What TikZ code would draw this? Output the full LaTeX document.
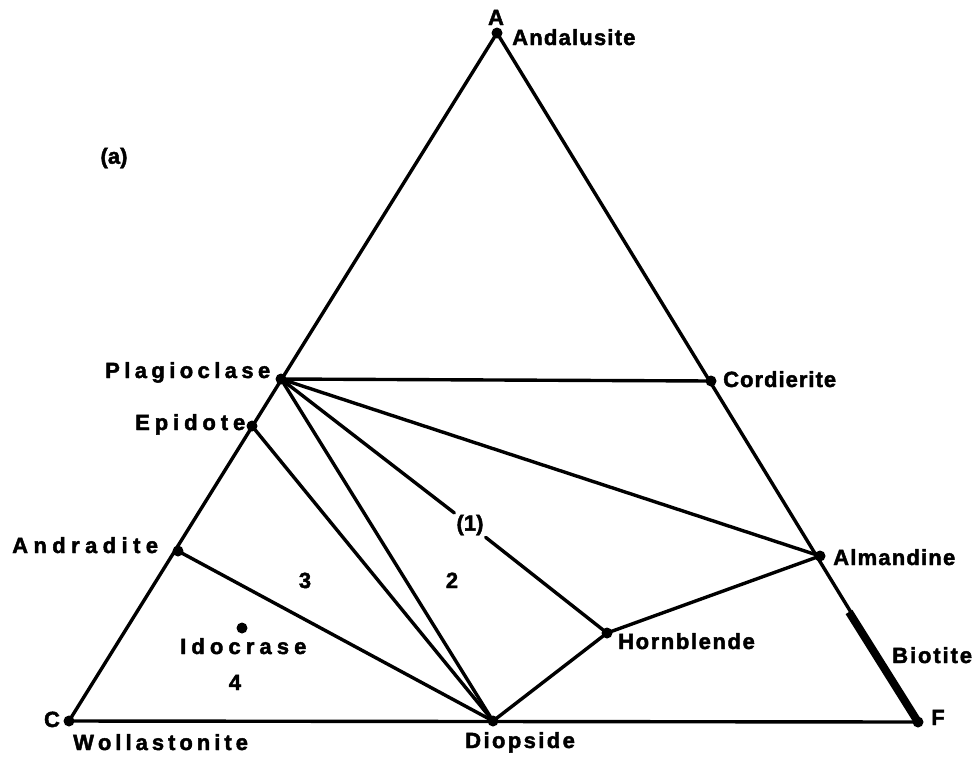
\documentclass[tikz,border=0pt]{standalone}
\usepackage{fontspec}
\setmainfont{Liberation Sans}
\newfontfamily\lblfont{Liberation Sans Bold}[FakeBold=2]
\makeatletter
\newcommand\lsp[2]{\def\lsp@amt{#1}\lsp@iter#2\relax}
\def\lsp@iter#1{\ifx#1\relax\else#1\hspace{\lsp@amt}\expandafter\lsp@iter\fi}
\makeatother
\tikzset{
  lbl/.style={font=\fontsize{22}{26}\selectfont\lblfont, inner sep=0pt, anchor=base west},
  num/.style={font=\fontsize{22}{26}\selectfont\lblfont, inner sep=0pt, anchor=base},
  edge/.style={line width=3.4pt, line cap=round},
  dot/.style={fill=black}
}
\begin{document}
\begin{tikzpicture}[x=1pt,y=-1pt]
\useasboundingbox (0,0) rectangle (979,756);
% corner and phase points
\coordinate (A) at (497,33);
\coordinate (C) at (69,721);
\coordinate (F) at (918,722);
\coordinate (plag) at (281,379);
\coordinate (cord) at (711,381);
\coordinate (epid) at (252,426);
\coordinate (andr) at (178,551);
\coordinate (alm) at (820,556);
\coordinate (diop) at (493,721);
\coordinate (horn) at (607,633);
\coordinate (idoc) at (242,628);
\coordinate (biot) at (849,612);
% label (1)
\node[font=\fontsize{22}{26}\selectfont\lblfont, inner sep=2pt] (one) at (470,525) {(1)};
% triangle
\draw[edge, line join=round] (A) -- (C) -- (F) -- cycle;
% tie lines
\draw[edge] (plag) -- (cord);
\draw[edge] (plag) -- (alm);
\draw[edge] (plag) -- (diop);
\draw[edge] (plag) -- (one);
\draw[edge] (one) -- (horn);
\draw[edge] (epid) -- (diop);
\draw[edge] (andr) -- (diop);
\draw[edge] (horn) -- (diop);
\draw[edge] (horn) -- (alm);
% biotite thick segment
\draw[line width=8pt] (biot) -- (F);
% dots
\foreach \p in {A,C,F,plag,cord,epid,andr,alm,diop,horn,idoc}
  \fill[dot] (\p) circle (5.5pt);
% labels
\node[num] (lA) at (496,25) {A};
\node[lbl] (lAnd) at (512,45) {\lsp{1.2pt}{Andalusite}};
\node[font=\fontsize{22}{26}\selectfont\lblfont, inner sep=0pt] (la) at (114,158) {(a)};
\node[lbl] (lPlag) at (105,378) {\lsp{4.4pt}{Plagioclase}};
\node[lbl] (lCord) at (723,387) {\lsp{1.0pt}{Cordierite}};
\node[lbl] (lEpid) at (135,430) {\lsp{4.9pt}{Epidote}};
\node[lbl] (lAndr) at (12,553) {\lsp{5.4pt}{Andradite}};
\node[lbl] (lAlm) at (833,565) {\lsp{1.2pt}{Almandine}};
\node[lbl] (lIdoc) at (180,654) {\lsp{5.1pt}{Idocrase}};
\node[lbl] (lHorn) at (618,649) {\lsp{1.6pt}{Hornblende}};
\node[lbl] (lBiot) at (892,663) {\lsp{1.9pt}{Biotite}};
\node[lbl] (lWoll) at (73,750) {\lsp{4.0pt}{Wollastonite}};
\node[lbl] (lDiop) at (465,748) {\lsp{2.4pt}{Diopside}};
\node[num] (lC) at (52,727) {C};
\node[num] (lF) at (938,725) {F};
\node[num] (n3) at (305,588) {3};
\node[num] (n2) at (452,588) {2};
\node[num] (n4) at (235,690) {4};
\end{tikzpicture}
\end{document}
